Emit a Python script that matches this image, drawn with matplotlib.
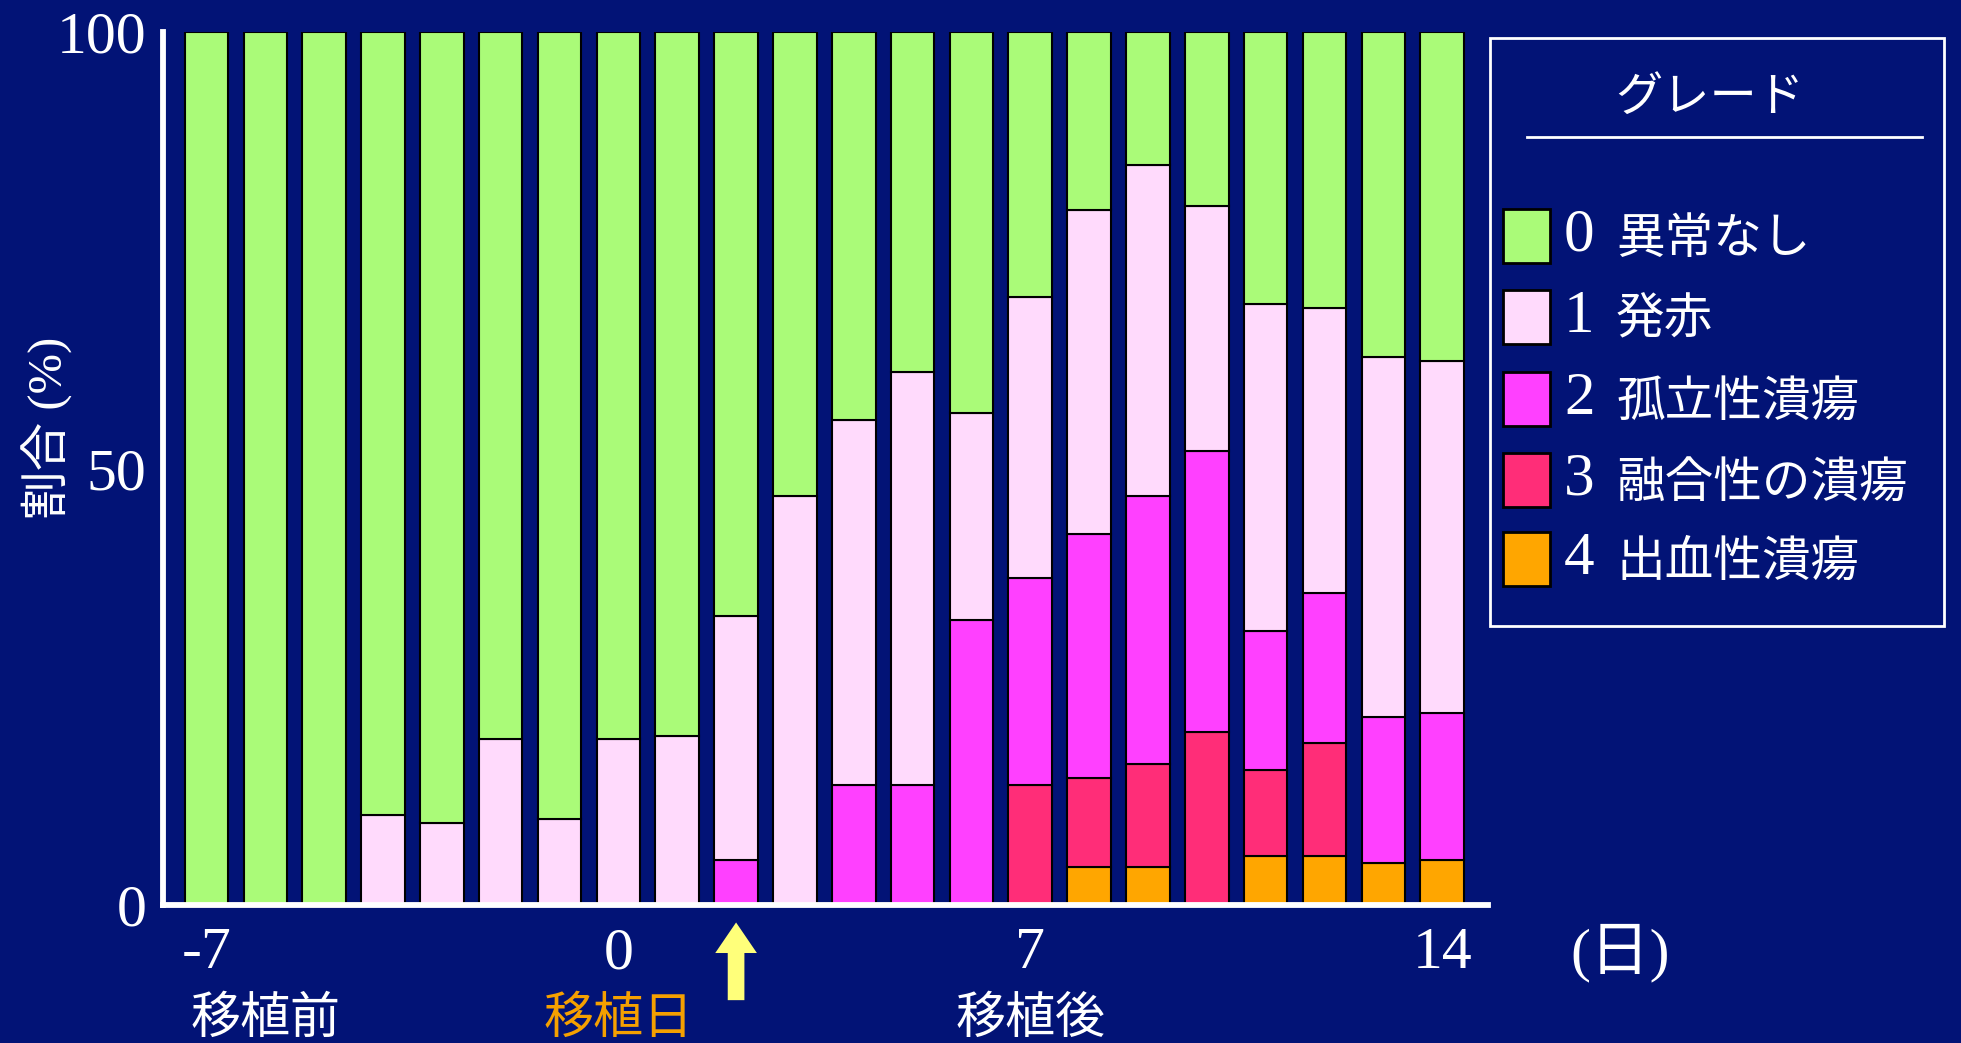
import numpy as np
import matplotlib
matplotlib.use('Agg')
import matplotlib.pyplot as plt
from matplotlib.patches import Rectangle

plt.rcParams['font.family'] = ['Liberation Serif', 'Noto Sans CJK JP']
CJK = ['Noto Sans CJK JP', 'DejaVu Sans']

# ---- data (percent of patients per grade, stacked bottom -> top: 4,3,2,1,0) ----
days = [-7, -6, -5, -4, -3, -2, -1, 0, 1, 2, 3, 4, 5, 6, 7, 8, 9, 10, 11, 12, 13, 14]
grade4 = [0, 0, 0, 0, 0, 0, 0, 0, 0, 0, 0, 0, 0, 0, 0, 4.3, 4.3, 0, 5.6, 5.6, 4.8, 5.2]
grade3 = [0, 0, 0, 0, 0, 0, 0, 0, 0, 0, 0, 0, 0, 0, 13.7, 10.3, 11.9, 19.8, 9.9, 12.9, 0, 0]
grade2 = [0, 0, 0, 0, 0, 0, 0, 0, 0, 5.1, 0, 13.7, 13.7, 32.6, 23.8, 27.9, 30.7, 32.2, 15.9, 17.2, 16.7, 16.8]
grade1 = [0, 0, 0, 10.3, 9.4, 19.0, 9.8, 19.0, 19.4, 28.0, 46.9, 41.8, 47.4, 23.8, 32.2, 37.1, 37.9, 28.1, 37.4, 32.7, 41.3, 40.3]
grade0 = [100, 100, 100, 89.7, 90.6, 81.0, 90.2, 81.0, 80.6, 66.9, 53.1, 44.5, 38.9, 43.6, 30.3, 20.4, 15.2, 19.9, 31.2, 31.6, 37.2, 37.7]

grade_nums = ['0', '1', '2', '3', '4']
grade_names = ['異常なし', '発赤', '孤立性潰瘍', '融合性の潰瘍', '出血性潰瘍']
grade_colors = ['#AAFB78', '#FFDAFC', '#FF40FF', '#FF2D78', '#FFA600']

xticks = [-7, 0, 7, 14]
xtick_labels = ['-7', '0', '7', '14']
phase_labels = ['移植前', '移植日', '移植後']
phase_pos = [-6, 0, 7]
phase_colors = ['white', '#F5A000', 'white']

BG = '#021376'

# ---- figure ----
fig = plt.figure(figsize=(19.61, 10.43), dpi=100, facecolor=BG)
ax = fig.add_axes([163 / 1961, 1 - 905 / 1043, 1325 / 1961, 873 / 1043])
ax.set_facecolor(BG)

x = np.array(days)
stack = [grade4, grade3, grade2, grade1, grade0]
stack_colors = grade_colors[::-1]
bottom = np.zeros(len(days))
for vals, col in zip(stack, stack_colors):
    vals = np.array(vals, dtype=float)
    m = vals > 0
    ax.bar(x[m], vals[m], bottom=bottom[m], width=0.74, color=col,
           edgecolor='black', linewidth=1.5, zorder=2)
    bottom += vals

ax.set_xlim(-7.74, 14.78)
ax.set_ylim(0, 100)

for s in ['top', 'right']:
    ax.spines[s].set_visible(False)
for s in ['left', 'bottom']:
    ax.spines[s].set_color('white')
    ax.spines[s].set_linewidth(4.2)
    ax.spines[s].set_zorder(3)

ax.set_yticks([0, 50, 100])
ax.set_yticklabels(['0', '50', '100'])
ax.tick_params(axis='y', length=0, pad=12, labelsize=43, labelcolor='white')
ax.set_xticks(xticks)
ax.set_xticklabels(xtick_labels)
ax.tick_params(axis='x', length=0, pad=16, labelsize=43, labelcolor='white')

# y label: CJK part falls back to Noto, "(%)" stays serif
fig.text(47 / 1961, 0.59, '割合 (%)', rotation=90, ha='center', va='center',
         fontsize=35, color='white')

# phase labels under the ticks
tr = ax.get_xaxis_transform()
for lab, pos, col in zip(phase_labels, phase_pos, phase_colors):
    ax.text(pos, -0.13, lab, transform=tr, ha='center', va='center',
            fontsize=36, color=col, family=CJK, clip_on=False)

# transplant-day arrow under day 2
ax.annotate('', xy=(2, -0.02), xycoords=tr, xytext=(2, -0.109), textcoords=tr,
            arrowprops=dict(arrowstyle='simple,head_length=2.2,head_width=3.0,tail_width=1.2',
                            fc='#FFFF7A', ec='none', mutation_scale=10,
                            shrinkA=0, shrinkB=0))

fig.text(1620 / 1961, 1 - 953 / 1043, '(日)', ha='center', va='center',
         fontsize=43, color='white')

# ---- legend box ----
lg = fig.add_axes([1488 / 1961, 1 - 628 / 1043, 458 / 1961, 592 / 1043])
lg.set_xlim(0, 458)
lg.set_ylim(592, 0)
lg.axis('off')
lg.add_patch(Rectangle((2, 2), 454, 588, fill=False, ec='white', lw=2, clip_on=False))
lg.text(222, 62, 'グレード', ha='center', va='center', fontsize=34,
        color='white', family=CJK)
lg.plot([39, 434], [101, 101], color='white', lw=2)

row_y = [200, 281, 363, 444, 523]
for yy, num, name, col in zip(row_y, grade_nums, grade_names, grade_colors):
    lg.add_patch(Rectangle((15, yy - 27), 47, 54, fc=col, ec='black', lw=2))
    lg.text(76, yy, num, ha='left', va='center', fontsize=44, color='white')
    lg.text(128, yy + 3, name, ha='left', va='center', fontsize=35,
            color='white', family=CJK)

fig.savefig('out.png', dpi=100, facecolor=BG)
